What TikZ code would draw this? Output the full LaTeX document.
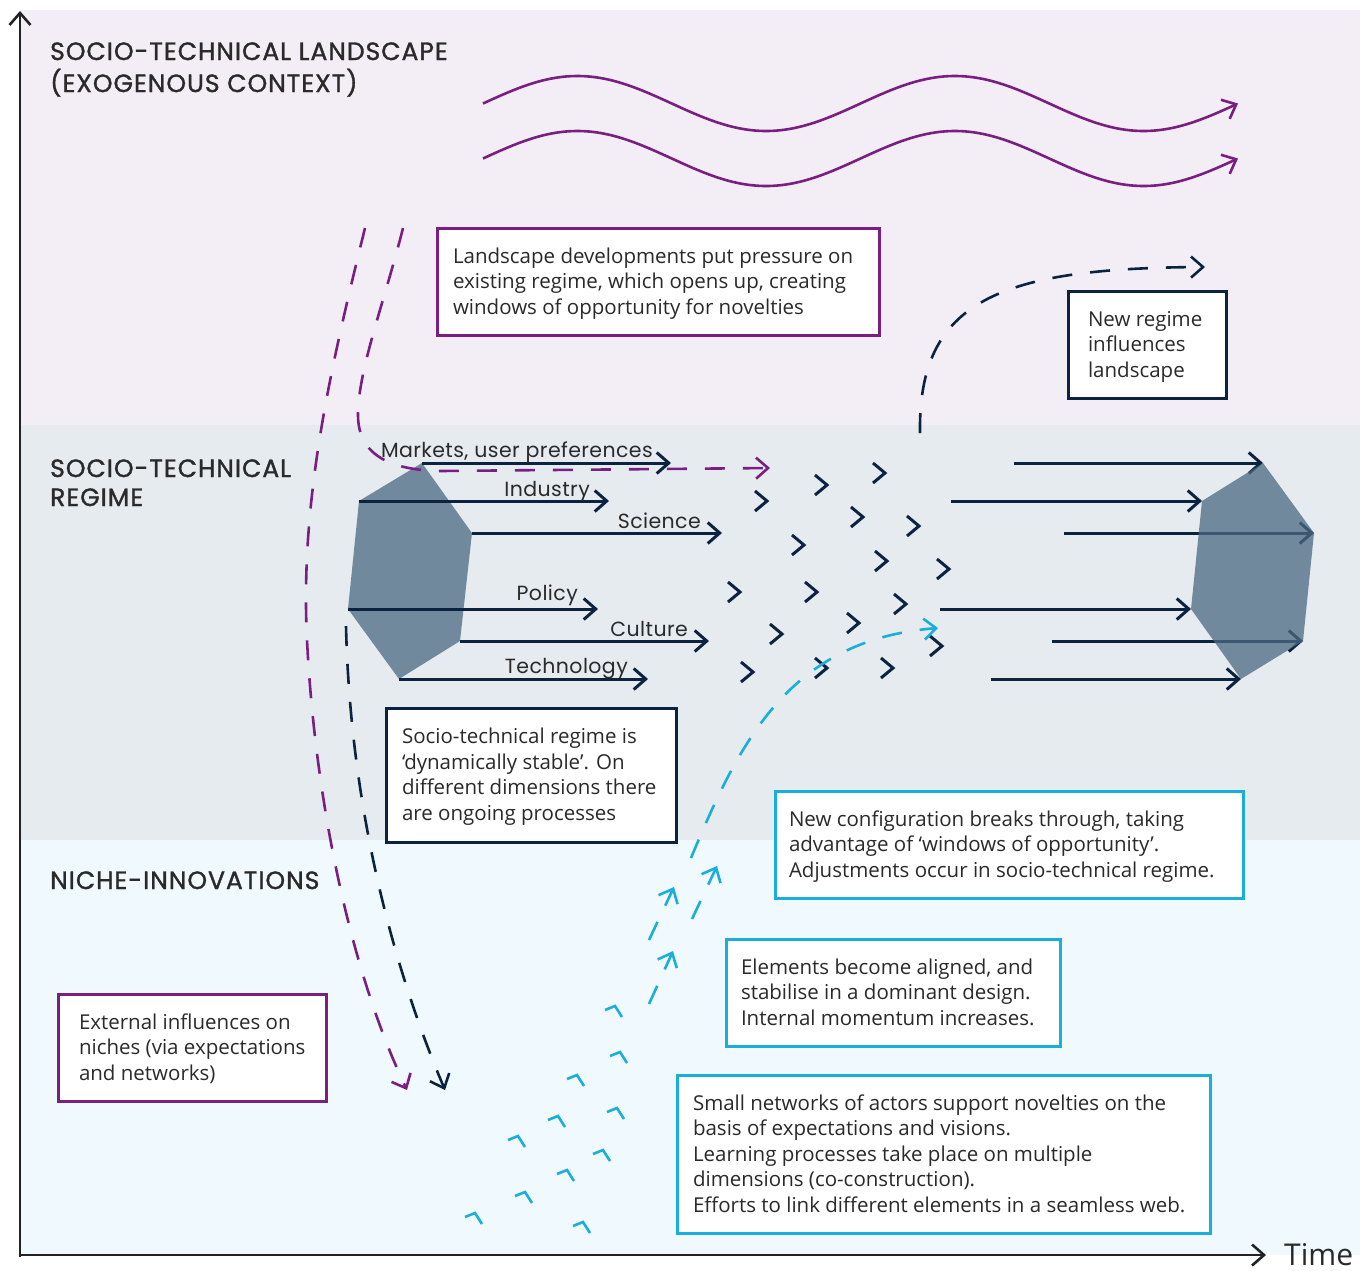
\documentclass[tikz,border=0pt]{standalone}
\usepackage{fontspec}
\setmainfont{Open Sans}
\newfontfamily\headfont[FakeBold=1.3,LetterSpace=4]{Poppins}
\newfontfamily\labfont[LetterSpace=2]{Poppins}
\usetikzlibrary{arrows.meta}

\definecolor{landbg}{HTML}{F3EEF5}
\definecolor{regbg}{HTML}{E6EBF0}
\definecolor{nichebg}{HTML}{F0F9FD}
\definecolor{mlpurple}{HTML}{7A1F82}
\definecolor{mlnavy}{HTML}{0C2340}
\definecolor{mlcyan}{HTML}{1AAEDB}
\definecolor{hexfill}{HTML}{4B6982}
\definecolor{ink}{HTML}{2A2A2A}
\definecolor{axisc}{HTML}{222222}

\newcommand\headsize{\headfont\fontsize{25}{29}\selectfont}
\newcommand\labsize{\labfont\fontsize{20.5}{24}\selectfont}
\newcommand\bodysize{\fontsize{20.5}{25.5}\selectfont}
% fixed-width block of hand-broken lines, set a little low in its box
\newcommand\boxlines[2]{\raisebox{-2pt}[\height][\depth]{\makebox[#1][l]{\begin{tabular}{@{}l@{}}#2\end{tabular}}}}
\newcommand\headlines[1]{\begin{tabular}[t]{@{}l@{}}#1\end{tabular}}

\begin{document}
\begin{tikzpicture}[x=1pt,y=-1pt,line join=miter,
  tip/.style={-{Straight Barb[length=12pt,width=21pt]}},
  axisline/.style={draw=axisc,line width=2.6pt,tip},
  flow/.style={draw=mlnavy,line width=3pt,tip},
  dashline/.style={line width=2.6pt,dash pattern=on 20pt off 18pt,tip},
  navchev/.style={draw=mlnavy,line width=3pt},
  cyanchev/.style={draw=mlcyan,line width=2.6pt},
  hexagon/.style={fill=hexfill,fill opacity=0.75},
  wave/.style={draw=mlpurple,line width=2.6pt,tip},
  infobox/.style={draw,line width=3pt,fill=white,outer sep=0pt,inner ysep=0pt,
    anchor=north west,text=ink,font=\bodysize},
  level/.style={font=\headsize,text=ink,anchor=base west,inner sep=0pt},
  dimlabel/.style={font=\labsize,text=ink,anchor=base east,inner sep=0pt},
]
\useasboundingbox (0,0) rectangle (1364,1270);

% three levels
\fill[landbg] (20,10) rectangle (1360,425);
\fill[regbg] (20,425) rectangle (1360,840);
\fill[nichebg] (20,840) rectangle (1360,1255);

% axes
\coordinate (origin) at (20,1257);
\coordinate (ytop) at (20,11);
\coordinate (xend) at (1266,1255);
\draw[axisline] (origin) -- (ytop);
\draw[axisline] (18.7,1255) -- (xend);
\node[anchor=base west,inner sep=0pt,text depth=0pt,text=ink,font=\fontsize{30}{30}\selectfont] (timelab) at (1284,1265) {Time};

% level headings
\node[level] (landhead) at (50,60) {\headlines{SOCIO-TECHNICAL LANDSCAPE\\(EXOGENOUS CONTEXT)}};
\node[level] (reghead) at (50,477) {\headlines{SOCIO-TECHNICAL\\REGIME}};
\node[level] (nichehead) at (50,889) {NICHE-INNOVATIONS};

% landscape developments (two periods of a sine wave)
\draw[wave] plot[domain=0:755,samples=220,smooth] ({483+\x},{103.5-27.5*sin(\x/377.5*360)});
\draw[wave] plot[domain=0:755,samples=220,smooth] ({483+\x},{158.5-27.5*sin(\x/377.5*360)});

% existing regime
\coordinate (hl1) at (422,463);
\coordinate (hl2) at (359,501);
\coordinate (hl3) at (348,609);
\coordinate (hl4) at (399,679);
\coordinate (hl5) at (460,641);
\coordinate (hl6) at (472,533);
\fill[hexagon] (hl1) -- (hl2) -- (hl3) -- (hl4) -- (hl5) -- (hl6) -- cycle;

% landscape pressure on the regime
\coordinate (pa0) at (403,228);
\coordinate (pa1) at (770,468);
\draw[dashline,draw=mlpurple] (pa0) .. controls (385,300) and (358,370) .. (358,415)
  .. controls (358,455) and (390,470) .. (440,471) -- (pa1);

% regime dimensions
\coordinate (e1) at (671,463);
\coordinate (e2) at (609,501);
\coordinate (e3) at (722,533);
\coordinate (e4) at (598,609);
\coordinate (e5) at (709,641);
\coordinate (e6) at (648,679);
\draw[flow] (hl1) -- (e1);
\draw[flow] (hl2) -- (e2);
\draw[flow] (hl6) -- (e3);
\draw[flow] (hl3) -- (e4);
\draw[flow] (hl5) -- (e5);
\draw[flow] (hl4) -- (e6);
\node[dimlabel] (lmarkets) at (653,457) {Markets, user preferences};
\node[dimlabel] (lindustry) at (590,496) {Industry};
\node[dimlabel] (lscience) at (701,528) {Science};
\node[dimlabel] (lpolicy) at (578,600) {Policy};
\node[dimlabel] (lculture) at (688,636) {Culture};
\node[dimlabel] (ltech) at (628,673) {Technology};

% ongoing processes in the regime
\foreach \cx/\cy in {827/485,885/473,767/501,863/517,919/526,804/545,887/561,949/569,
  740/592,817/592,906/604,782/634,859/623,942/646,753/672,827/668,893/668}
  \draw[navchev] (\cx,\cy) ++(-12,-10) -- ++(12,10) -- ++(-12,10);

% new regime
\coordinate (hr1) at (1263,463);
\coordinate (hr2) at (1202,501);
\coordinate (hr3) at (1191,609);
\coordinate (hr4) at (1241,679);
\coordinate (hr5) at (1303,641);
\coordinate (hr6) at (1314,533);
\coordinate (s1) at (1014,463);
\coordinate (s2) at (951,501);
\coordinate (s3) at (1064,533);
\coordinate (s4) at (940,609);
\coordinate (s5) at (1052,641);
\coordinate (s6) at (991,679);
\draw[flow] (s1) -- (hr1);
\draw[flow] (s2) -- (hr2);
\draw[flow] (s3) -- (hr6);
\draw[flow] (s4) -- (hr3);
\draw[flow] (s5) -- (hr5);
\draw[flow] (s6) -- (hr4);
\fill[hexagon] (hr1) -- (hr2) -- (hr3) -- (hr4) -- (hr5) -- (hr6) -- cycle;

% influences down to the niches
\coordinate (pb0) at (365,228);
\coordinate (pb1) at (407,1090);
\draw[dashline,draw=mlpurple] (pb0) .. controls (330,370) and (300,500) .. (307,640)
  .. controls (315,800) and (350,970) .. (pb1);
\coordinate (rb0) at (346,626);
\coordinate (rb1) at (445,1090);
\draw[dashline,draw=mlnavy] (rb0) .. controls (350,800) and (390,960) .. (rb1);

% new regime feeds back to the landscape
\coordinate (nr0) at (920,433);
\coordinate (nr1) at (1205,267);
\draw[dashline,draw=mlnavy] (nr0) .. controls (918,300) and (1000,268) .. (nr1);

% niche-innovations
\foreach \cx/\cy in {615/1006,620/1052,577/1075,617/1108,558/1116,518/1136,
  603/1150,567/1170,525/1192,583/1222,475/1213}
  \draw[cyanchev] (\cx,\cy) ++(-10,4) -- ++(10,-4) -- ++(7,11);
\coordinate (c1a) at (649,1004);
\coordinate (c1b) at (673,951);
\coordinate (c2a) at (649,940);
\coordinate (c2b) at (674,887);
\coordinate (c3a) at (692,919);
\coordinate (c3b) at (717,866);
\draw[dashline,draw=mlcyan] (c1a) -- (c1b);
\draw[dashline,draw=mlcyan] (c2a) -- (c2b);
\draw[dashline,draw=mlcyan] (c3a) -- (c3b);
\coordinate (bt0) at (691,858);
\coordinate (bt1) at (938,628);
\draw[dashline,draw=mlcyan] (bt0) .. controls (740,740) and (790,640) .. (bt1);

% explanations
\node[infobox,draw=mlpurple,inner xsep=16pt,minimum height=107pt] (pressure) at (437,228)
  {\boxlines{410pt}{Landscape developments put pressure on\\existing regime, which opens up, creating\\windows of opportunity for novelties}};
\node[infobox,draw=mlnavy,inner xsep=20pt,minimum height=107pt] (feedback) at (1068,291)
  {\boxlines{118pt}{New regime\\influences\\landscape}};
\node[infobox,draw=mlnavy,inner xsep=16pt,minimum height=134pt] (stable) at (386,708)
  {\boxlines{258pt}{Socio-technical regime is\\‘dynamically stable’. On\\different dimensions there\\are ongoing processes}};
\node[infobox,draw=mlcyan,inner xsep=14pt,minimum height=107pt] (breakthrough) at (775,791)
  {\boxlines{440pt}{New configuration breaks through, taking\\advantage of ‘windows of opportunity’.\\Adjustments occur in socio-technical regime.}};
\node[infobox,draw=mlcyan,inner xsep=15pt,minimum height=107pt] (aligned) at (726,939)
  {\boxlines{304pt}{Elements become aligned, and\\stabilise in a dominant design.\\Internal momentum increases.}};
\node[infobox,draw=mlcyan,inner xsep=16pt,minimum height=158pt] (networks) at (677,1075)
  {\boxlines{501pt}{Small networks of actors support novelties on the\\basis of expectations and visions.\\Learning processes take place on multiple\\dimensions (co-construction).\\Efforts to link different elements in a seamless web.}};
\node[infobox,draw=mlpurple,inner xsep=21pt,minimum height=107pt] (external) at (58,994)
  {\boxlines{226pt}{External influences on\\niches (via expectations\\and networks)}};
\end{tikzpicture}
\end{document}
